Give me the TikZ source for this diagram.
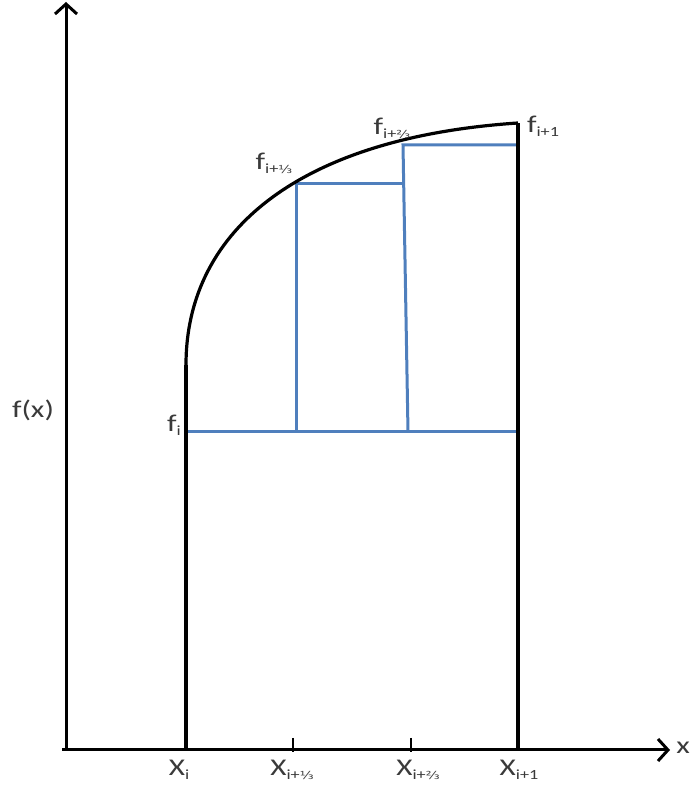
\documentclass[tikz,border=0pt]{standalone}
\usepackage{fontspec}
\usepackage{graphicx}
\setmainfont{Carlito}
\newfontfamily\fracfont{DejaVu Sans}
\usetikzlibrary{arrows.meta}
\definecolor{txtgray}{HTML}{3A3A3A}
\definecolor{stepblue}{HTML}{4F7FBD}
\newcommand{\wlab}[1]{\scalebox{1.3}[1]{#1}}
\newcommand{\sub}[1]{\raisebox{-0.35ex}{\fontsize{14}{15}\selectfont #1}}
\newcommand{\third}{{\fracfont\fontsize{11}{12}\selectfont\char"2153}}
\newcommand{\twothirds}{{\fracfont\fontsize{11}{12}\selectfont\char"2154}}
\tikzset{
  axisline/.style={line width=3pt, black, -{Straight Barb[length=10pt,width=22pt,line width=3pt]}},
  blackline/.style={line width=3.2pt, black},
  blueline/.style={line width=3pt, stepblue},
  ticklbl/.style={text=txtgray, font=\fontsize{24}{26}\selectfont, inner sep=0pt},
  tickmark/.style={line width=1.8pt, black}
}
\begin{document}
\begin{tikzpicture}[x=1pt,y=1pt]
\useasboundingbox (0,0) rectangle (690,792);
% coordinates
\coordinate (O) at (66,42);
\coordinate (ytop) at (66,790);
\coordinate (xstart) at (62,42);
\coordinate (xend) at (670,42);
\coordinate (xi) at (186,42);
\coordinate (fi) at (186,427);
\coordinate (xn) at (518,42);
\coordinate (fn) at (518,669);
\coordinate (bl) at (186,360);
\coordinate (br) at (518,360);
\coordinate (a1) at (296,360);
\coordinate (a2) at (296,608);
\coordinate (b1) at (405,608);
\coordinate (b2) at (403,647);
\coordinate (b3) at (408,360);
\coordinate (c2) at (518,647);
\coordinate (t1a) at (293,54);
\coordinate (t1b) at (293,40);
\coordinate (t2a) at (411,54);
\coordinate (t2b) at (411,40);
% axes
\draw[axisline] (O) -- (ytop);
\draw[axisline] (xstart) -- (xend);
% ticks
\draw[tickmark] (t1a) -- (t1b);
\draw[tickmark] (t2a) -- (t2b);
% blue steps
\draw[blueline] (bl) -- (br);
\draw[blueline] (a1) -- (a2) -- (b1);
\draw[blueline] (b3) -- (b2) -- (c2);
% black verticals and curve
\draw[blackline] (xi) -- (fi);
\draw[blackline] (xn) -- (fn);
\draw[blackline] (fi) .. controls (186,565) and (305,655) .. (fn);
% labels
\node[ticklbl] (lfx) at (33,382) {\wlab{f(x)}};
\node[ticklbl] (lx) at (683,44) {\wlab{x}};
\node[ticklbl] (lfi) at (174,367) {\wlab{f\sub{i}}};
\node[ticklbl] (lf1) at (274,629) {\wlab{f\sub{i+\third}}};
\node[ticklbl] (lf2) at (392,664) {\wlab{f\sub{i+\twothirds}}};
\node[ticklbl] (lfn) at (543,666) {\wlab{f\sub{i+1}}};
\node[ticklbl] (lxi) at (179,22) {\wlab{X\sub{i}}};
\node[ticklbl] (lx1) at (292,22) {\wlab{X\sub{i+\third}}};
\node[ticklbl] (lx2) at (418,22) {\wlab{X\sub{i+\twothirds}}};
\node[ticklbl] (lxn) at (519,22) {\wlab{X\sub{i+1}}};
\end{tikzpicture}
\end{document}
